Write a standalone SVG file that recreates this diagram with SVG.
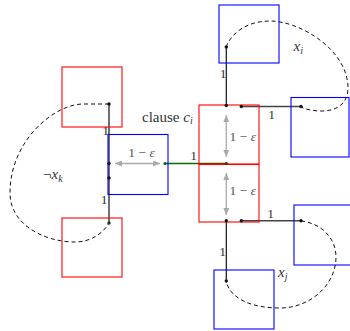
<svg xmlns="http://www.w3.org/2000/svg" width="350" height="331" viewBox="0 0 350 331">
  <style>
    .red { fill: none; stroke: #ff0000; stroke-width: 1.1; }
    .blue { fill: none; stroke: #0000ff; stroke-width: 1.1; }
    .edge { fill: none; stroke: #111; stroke-width: 1.2; }
    .edge2 { fill: none; stroke: #444; stroke-width: 1.5; }
    .loop { fill: none; stroke: #111; stroke-width: 1; stroke-dasharray: 4 3; }
    .len { fill: none; stroke: #aaaaaa; stroke-width: 1.3; marker-start: url(#tip); marker-end: url(#tip); }
    .dot { fill: #111; }
    text { font-family: "Liberation Serif", "DejaVu Serif", serif; font-size: 13.5px; fill: #333; }
    text.big { font-size: 15px; }
    .eps { fill: #555; }
    .m { font-style: italic; }
    .sub { font-size: 10px; font-style: italic; }
  </style>
  <defs>
    <marker id="tip" viewBox="0 0 7 6" refX="7" refY="3" markerWidth="7" markerHeight="6" markerUnits="userSpaceOnUse" orient="auto-start-reverse">
      <path d="M0,0 L7,3 L0,6 z" fill="#aaaaaa"/>
    </marker>
  </defs>

  <!-- connectors -->
  <g id="connectors">
    <line x1="165" y1="163.5" x2="226.3" y2="163.5" stroke="#0a6a0a" stroke-width="1.6"/>
    <line class="edge" x1="109" y1="104" x2="109" y2="223"/>
    <line class="edge" x1="226.3" y1="47" x2="226.3" y2="105"/>
    <line class="edge" x1="226.3" y1="221" x2="226.3" y2="281"/>
    <line class="edge2" x1="241.3" y1="106.5" x2="301" y2="106.5"/>
    <line class="edge2" x1="241.3" y1="220.7" x2="301" y2="220.7"/>
    <path class="loop" d="M109,104 L83,104 C55,104 10,140 10,193 C10,225 45,242 75,242 C92,242 104,232 109,223"/>
    <path class="loop" d="M226,47 C232,32 248,21 270,21 C300,21 348,50 348,88 C348,105 335,111 322,111 C312,111 305,109 301,107"/>
    <path class="loop" d="M301,221 C320,223 336,237 336,257 C336,285 310,308 280,308 C250,308 230,298 226,281"/>
    <line class="len" x1="115" y1="163.5" x2="160" y2="163.5"/>
    <line class="len" x1="226.3" y1="115" x2="226.3" y2="157"/>
    <line class="len" x1="226.3" y1="173" x2="226.3" y2="215"/>
  </g>

  <!-- variable gadgets and clause gadget -->
  <g id="neg-xk-top"><rect class="red" x="62" y="67" width="60" height="60"/></g>
  <g id="neg-xk-bottom"><rect class="red" x="62" y="218" width="60" height="59"/></g>
  <g id="neg-xk-mid"><rect class="blue" x="108" y="134.5" width="60" height="60"/></g>
  <g id="clause-upper"><rect class="red" x="199" y="105" width="60" height="59"/></g>
  <g id="clause-lower"><rect class="red" x="199" y="164.5" width="60" height="57.5"/></g>
  <g id="xi-top"><rect class="blue" x="219" y="5" width="60" height="58"/></g>
  <g id="xi-right"><rect class="blue" x="291" y="97.5" width="58" height="59.5"/></g>
  <g id="xj-right"><rect class="blue" x="294" y="205" width="60" height="60"/></g>
  <g id="xj-bottom"><rect class="blue" x="214" y="270" width="60" height="59"/></g>

  <!-- joints -->
  <g id="joints">
    <circle class="dot" cx="109" cy="104" r="1.7"/>
    <circle class="dot" cx="109" cy="163.5" r="1.7"/>
    <circle class="dot" cx="109" cy="178" r="1.7"/>
    <circle cx="109" cy="223" r="1.7" fill="#1a3a1a"/>
    <circle cx="165" cy="163.5" r="1.6" fill="#0a6a0a"/>
    <circle cx="226.3" cy="163.5" r="1.6" fill="#3a3a10"/>
    <circle class="dot" cx="226.3" cy="47" r="1.7"/>
    <circle class="dot" cx="226.3" cy="105.5" r="1.7"/>
    <circle class="dot" cx="241.3" cy="106.5" r="1.7"/>
    <circle class="dot" cx="301" cy="106.5" r="1.7"/>
    <circle class="dot" cx="226.3" cy="220.7" r="1.7"/>
    <circle class="dot" cx="241.3" cy="220.7" r="1.7"/>
    <circle class="dot" cx="301" cy="220.7" r="1.7"/>
    <circle class="dot" cx="226.3" cy="281" r="1.7"/>
  </g>

  <!-- labels -->
  <g id="labels">
    <text class="big" x="142" y="121.5">clause <tspan class="m">c</tspan><tspan class="sub" dy="2.5">i</tspan></text>
    <text class="big" x="43" y="179">¬<tspan class="m">x</tspan><tspan class="sub" dy="2.5">k</tspan></text>
    <text class="big m" x="293.5" y="51">x<tspan class="sub" dy="2.5">i</tspan></text>
    <text class="big m" x="278" y="277">x<tspan class="sub" dy="3">j</tspan></text>
    <text class="eps" x="141.5" y="157" text-anchor="middle">1 − <tspan class="m">ε</tspan></text>
    <text class="eps" x="229.5" y="141">1 − <tspan class="m">ε</tspan></text>
    <text class="eps" x="229.5" y="195">1 − <tspan class="m">ε</tspan></text>
    <text x="105.5" y="135" text-anchor="middle">1</text>
    <text x="104" y="204" text-anchor="middle">1</text>
    <text x="193.7" y="160" text-anchor="middle">1</text>
    <text x="223" y="78" text-anchor="middle">1</text>
    <text x="222.5" y="256" text-anchor="middle">1</text>
    <text x="271.5" y="118.5" text-anchor="middle">1</text>
    <text x="270.5" y="218" text-anchor="middle">1</text>
  </g>
</svg>
